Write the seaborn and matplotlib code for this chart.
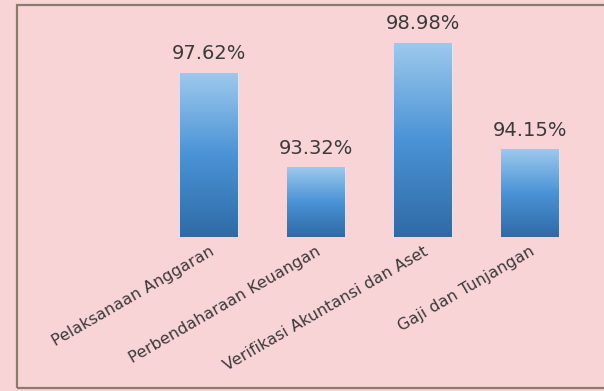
import numpy as np
import pandas as pd
import matplotlib
matplotlib.use("Agg")
import matplotlib.pyplot as plt
import seaborn as sns
from matplotlib.patches import Rectangle
from matplotlib.colors import LinearSegmentedColormap

# ========== DATA ==========
categories = ["Pelaksanaan Anggaran", "Perbendaharaan Keuangan",
              "Verifikasi Akuntansi dan Aset", "Gaji dan Tunjangan"]
values = [97.62, 93.32, 98.98, 94.15]
value_labels = ["97.62%", "93.32%", "98.98%", "94.15%"]

df = pd.DataFrame({"bidang": categories, "realisasi": values})

# ========== STYLE ==========
sns.set_theme(style="white")
plt.rcParams['font.family'] = ['DejaVu Sans']
bg = "#f9d4d7"
text_col = "#3a3a3a"

fig = plt.figure(figsize=(6.04, 3.91), dpi=100, facecolor=bg)
ax = fig.add_axes([155.5 / 604, 1 - 237 / 391, 428 / 604, (237 - 21) / 391])
ax.set_facecolor("none")

sns.barplot(data=df, x="bidang", y="realisasi", ax=ax, width=0.54,
            color="#4a90d0", saturation=1)

ymin, ymax = 90.17, 99.99
ax.set_ylim(ymin, ymax)
ax.set_xlim(-0.5, 3.5)

# gradient fill for each bar
cmap = LinearSegmentedColormap.from_list("bluegrad", ["#2f6aa6", "#4a93d6", "#9dc9ec"])
grad = np.linspace(0, 1, 256).reshape(-1, 1)
for p in ax.patches:
    x0 = p.get_x()
    w = p.get_width()
    top = p.get_y() + p.get_height()
    p.set_facecolor("none")
    p.set_edgecolor("#dde6f5")
    p.set_linewidth(0.8)
    ax.imshow(grad, extent=[x0, x0 + w, ymin, top], origin="lower",
              aspect="auto", cmap=cmap, zorder=2)

for i, (v, lab) in enumerate(zip(values, value_labels)):
    ax.text(i, v + 0.45, lab, ha="center", va="bottom",
            fontsize=14, color=text_col)

ax.set_yticks([])
ax.set_xlabel("")
ax.set_ylabel("")
ax.set_xticks(range(len(categories)))
ax.set_xticklabels(categories, rotation=30, ha="right",
                   rotation_mode="anchor", fontsize=11.5, color=text_col)
ax.tick_params(axis="x", length=0, pad=5)
sns.despine(ax=ax, left=True, bottom=True)

# outer frame
fig.patches.append(Rectangle((17 / 604, 3 / 391), 1.0, 383 / 391,
                             transform=fig.transFigure, fill=False,
                             edgecolor="#8b7b6b", linewidth=1.6))

fig.savefig("out.png", dpi=100, facecolor=bg)
